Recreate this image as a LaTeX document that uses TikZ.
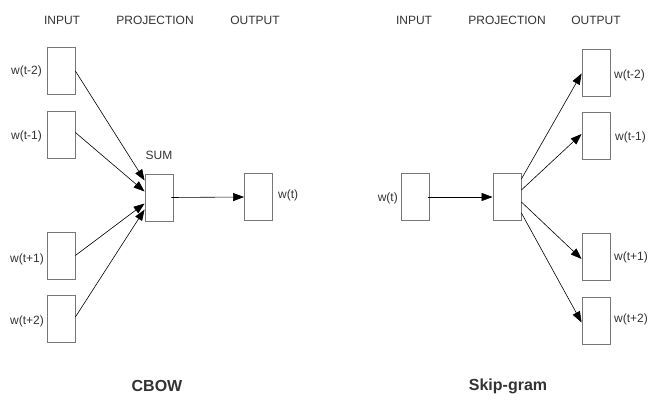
\documentclass[tikz,border=0pt]{standalone}
\usepackage{fontspec}
\setmainfont{Liberation Sans}
\usetikzlibrary{arrows.meta}
\definecolor{txt}{HTML}{333333}
\definecolor{bx}{HTML}{777777}
\begin{document}
\begin{tikzpicture}[x=1pt,y=-1pt,
  box/.style={draw=bx,line width=0.8pt,minimum width=28pt,minimum height=47pt,inner sep=0pt,fill=white},
  lab/.style={text=txt,font=\fontsize{12}{13}\selectfont,inner sep=0pt},
  ttl/.style={text=txt,font=\fontsize{16}{17}\selectfont\bfseries,inner sep=0pt},
  arr/.style={-{Triangle[length=11pt,width=8pt]},line width=0.6pt,black}]
\useasboundingbox (0,0) rectangle (667,406);
% CBOW
\node[lab] (h1) at (62,20) {INPUT};
\node[lab] (h2) at (155,20) {PROJECTION};
\node[lab] (h3) at (255,20) {OUTPUT};
\node[box] (a1) at (61,71) {};
\node[box] (a2) at (61,134.5) {};
\node[box] (a3) at (61,255.5) {};
\node[box] (a4) at (61,319) {};
\node[box] (s) at (159,197.5) {};
\node[box] (o) at (258.5,197) {};
\node[lab,anchor=east] (la1) at (42,71) {w(t-2)};
\node[lab,anchor=east] (la2) at (42,136) {w(t-1)};
\node[lab,anchor=east] (la3) at (44,259) {w(t+1)};
\node[lab,anchor=east] (la4) at (44,321) {w(t+2)};
\node[lab] (sum) at (159,155) {SUM};
\node[lab,anchor=west] (lo) at (278,195) {w(t)};
\node[ttl] (cbow) at (157,386) {CBOW};
\draw[arr] (a1.east) -- ([yshift=17pt]s.west);
\draw[arr] ([yshift=2pt]a2.east) -- ([yshift=6pt]s.west);
\draw[arr] (a3.east) -- ([yshift=-6pt]s.west);
\draw[arr] ([yshift=2pt]a4.east) -- ([yshift=-12pt]s.west);
\draw[arr] ([xshift=-2pt]s.east) -- (o.west);
% Skip-gram
\node[lab] (g1) at (414,20) {INPUT};
\node[lab] (g2) at (507,20) {PROJECTION};
\node[lab] (g3) at (596,20) {OUTPUT};
\node[box] (in) at (415.5,197) {};
\node[box] (p) at (507,197) {};
\node[box] (b1) at (596,72.5) {};
\node[box] (b2) at (596,136) {};
\node[box] (b3) at (596,257) {};
\node[box] (b4) at (596,320.5) {};
\node[lab,anchor=east] (lin) at (398,198) {w(t)};
\node[lab,anchor=west] (lb1) at (614,75) {w(t-2)};
\node[lab,anchor=west] (lb2) at (615,137) {w(t-1)};
\node[lab,anchor=west] (lb3) at (614,257) {w(t+1)};
\node[lab,anchor=west] (lb4) at (614,319) {w(t+2)};
\node[ttl] (sg) at (508,386) {Skip-gram};
\draw[arr] ([xshift=-2pt]in.east) -- (p.west);
\draw[arr] ([yshift=18pt]p.east) -- ([yshift=-1pt]b1.west);
\draw[arr] ([yshift=7pt]p.east) -- ([yshift=2pt]b2.west);
\draw[arr] ([yshift=-5pt]p.east) -- ([yshift=-2pt]b3.west);
\draw[arr] ([yshift=-16pt]p.east) -- ([yshift=-2pt]b4.west);
\end{tikzpicture}
\end{document}
